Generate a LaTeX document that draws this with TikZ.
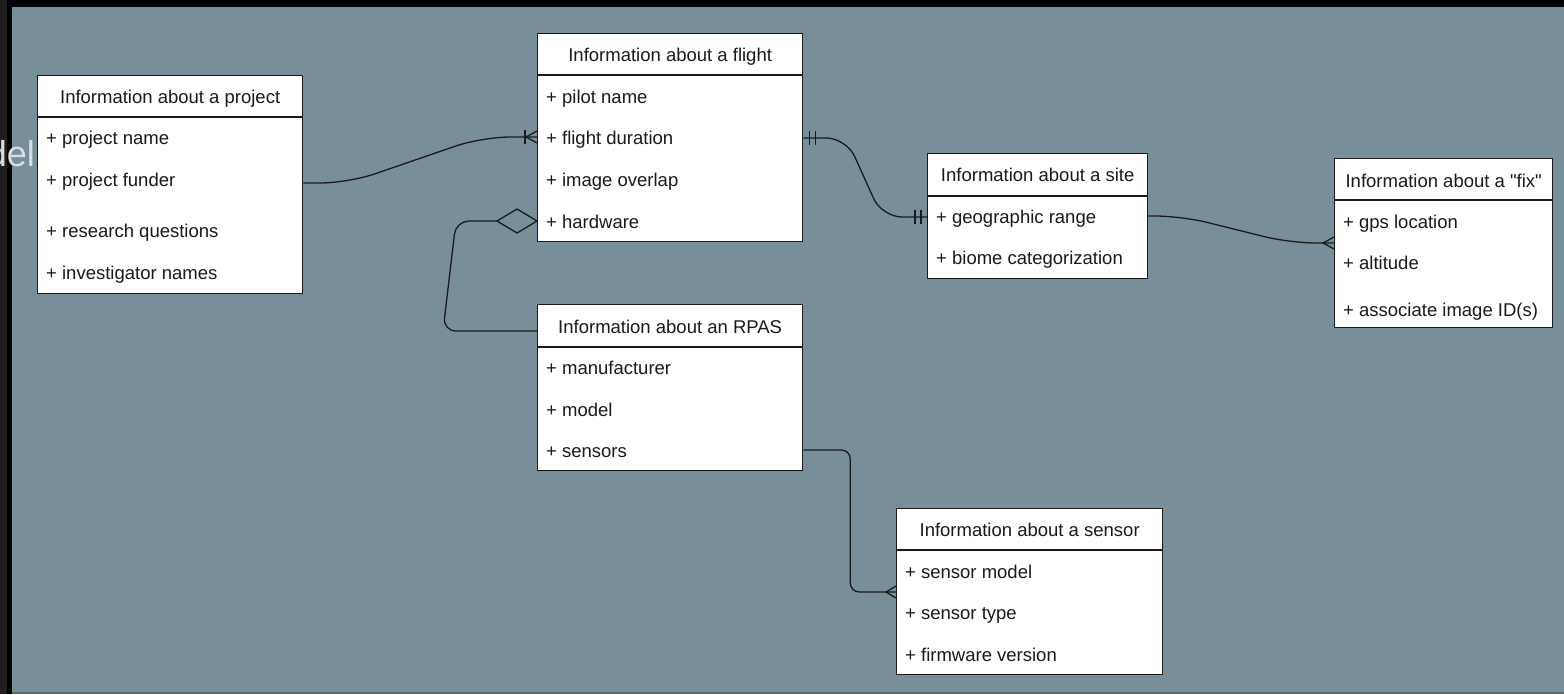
\documentclass[tikz,border=0pt]{standalone}
\usepackage{fontspec}
\setmainfont{Liberation Sans}
\usetikzlibrary{calc}
\definecolor{canvas}{HTML}{788F9A}
\definecolor{frameedge}{HTML}{1E1E1E}
\definecolor{ink}{HTML}{1A1A1A}
\definecolor{ghost}{HTML}{D8DEE1}
\begin{document}
\begin{tikzpicture}[x=1pt,y=-1pt,
  tbl/.style={draw=ink,fill=white,line width=1.3pt,inner sep=0pt,anchor=north west},
  hdr/.style={inner sep=0pt,anchor=center,text=ink,text height=13.2pt,text depth=0pt,font=\fontsize{18.5}{22}\selectfont},
  row/.style={inner sep=0pt,anchor=west,text=ink,text height=13.2pt,text depth=0pt,font=\fontsize{18.5}{22}\selectfont},
  link/.style={draw=ink,line width=1.3pt},
  divider/.style={draw=ink,line width=1.3pt}]
\useasboundingbox (0,0) rectangle (1564,694);

% page frame and canvas
\fill[frameedge] (0,0) rectangle (1564,694);
\fill[black] (7,0) rectangle (1564,7);
\fill[black] (7,0) rectangle (12,694);
\fill[canvas] (12,7) rectangle (1564,692);
\fill[canvas!75!black] (12,692) rectangle (1564,694);

% title fragment at the left edge
\node[anchor=base east,inner sep=0pt,text=ghost,font=\fontsize{36}{40}\selectfont] (title) at (35,166) {del};

% ---- project
\node[tbl,minimum width=265pt,minimum height=218pt] (project) at (37,75) {};
\draw[divider] (project.west |- 0,117) -- (project.east |- 0,117);
\node[hdr] (prh) at ($(project.north)+(0,22)$) {Information about a project};
\node[row] (pr1) at (46,138) {+ project name};
\node[row] (pr2) at (46,180) {+ project funder};
\node[row] (pr3) at (46,231) {+ research questions};
\node[row] (pr4) at (46,273) {+ investigator names};

% ---- flight
\node[tbl,minimum width=265pt,minimum height=208pt] (flight) at (537,33) {};
\draw[divider] (flight.west |- 0,75) -- (flight.east |- 0,75);
\node[hdr] (flh) at ($(flight.north)+(0,22)$) {Information about a flight};
\node[row] (fl1) at (546,97) {+ pilot name};
\node[row] (fl2) at (546,138) {+ flight duration};
\node[row] (fl3) at (546,180) {+ image overlap};
\node[row] (fl4) at (546,222) {+ hardware};

% ---- site
\node[tbl,minimum width=220pt,minimum height=125pt] (site) at (927,153) {};
\draw[divider] (site.west |- 0,196) -- (site.east |- 0,196);
\node[hdr] (sih) at ($(site.north)+(0,22)$) {Information about a site};
\node[row] (si1) at (936,217) {+ geographic range};
\node[row] (si2) at (936,258) {+ biome categorization};

% ---- fix
\node[tbl,minimum width=218pt,minimum height=169pt] (fix) at (1334,158) {};
\draw[divider] (fix.west |- 0,200) -- (fix.east |- 0,200);
\node[hdr] (fxh) at ($(fix.north)+(0,23)$) {Information about a \textquotedbl fix\textquotedbl};
\node[row] (fx1) at (1343,222) {+ gps location};
\node[row] (fx2) at (1343,263) {+ altitude};
\node[row] (fx3) at (1343,310) {+ associate image ID(s)};

% ---- RPAS
\node[tbl,minimum width=265pt,minimum height=166pt] (rpas) at (537,304) {};
\draw[divider] (rpas.west |- 0,347) -- (rpas.east |- 0,347);
\node[hdr] (rph) at ($(rpas.north)+(0,23)$) {Information about an RPAS};
\node[row] (rp1) at (546,368) {+ manufacturer};
\node[row] (rp2) at (546,410) {+ model};
\node[row] (rp3) at (546,451) {+ sensors};

% ---- sensor
\node[tbl,minimum width=266pt,minimum height=166pt] (sensor) at (896,508) {};
\draw[divider] (sensor.west |- 0,550) -- (sensor.east |- 0,550);
\node[hdr] (seh) at ($(sensor.north)+(0,22)$) {Information about a sensor};
\node[row] (se1) at (905,572) {+ sensor model};
\node[row] (se2) at (905,613) {+ sensor type};
\node[row] (se3) at (905,655) {+ firmware version};

% ---- connectors
% project -> flight (one or many)
\coordinate (c1a) at (project.east |- 0,183);
\coordinate (c1b) at (flight.west |- 0,137);
\draw[link,rounded corners=28pt] (c1a) -- ++(45,0) -- ($(c1b)+(-55,0)$) -- (c1b);
\draw[link] (c1b) ++(-12,-7) -- ++(0,14);
\draw[link] (c1b) ++(0,-6) -- ++(-11,6) -- ++(11,6);

% flight -> site (exactly one on both ends)
\coordinate (c2a) at (flight.east |- 0,138);
\coordinate (c2b) at (site.west |- 0,217);
\draw[link,rounded corners=20pt] (c2a) -- ++(43,0) -- ($(c2b)+(-45,0)$) -- (c2b);
\draw[link] (c2a) ++(6,-7) -- ++(0,14);
\draw[link] (c2a) ++(12,-7) -- ++(0,14);
\draw[link] (c2b) ++(-6,-7) -- ++(0,14);
\draw[link] (c2b) ++(-12,-7) -- ++(0,14);

% site -> fix (many)
\coordinate (c3a) at (site.east |- 0,216);
\coordinate (c3b) at (fix.west |- 0,243);
\draw[link,rounded corners=26pt] (c3a) -- ++(33,0) -- ($(c3b)+(-44,0)$) -- (c3b);
\draw[link] (c3b) ++(0,-6) -- ++(-11,6) -- ++(11,6);

% RPAS -> sensor (many)
\coordinate (c4a) at (rpas.east |- 0,450);
\coordinate (c4b) at (sensor.west |- 0,592);
\draw[link,rounded corners=9pt] (c4a) -- ++(47,0) |- (c4b);
\draw[link] (c4b) ++(0,-6) -- ++(-10,6) -- ++(10,6);

% flight hardware <>-- RPAS (aggregation)
\coordinate (c5a) at (flight.west |- 0,221);
\coordinate (c5b) at (rpas.west |- 0,331);
\draw[link,line join=round] (c5a) -- ++(-20,-12) -- ++(-20,12) -- ++(20,12) -- cycle;
\draw[link,rounded corners=13pt] ($(c5a)+(-40,0)$) -- ($(c5a)+(-81,0)$) -- ($(c5b)+(-94,0)$) -- (c5b);
\end{tikzpicture}
\end{document}
